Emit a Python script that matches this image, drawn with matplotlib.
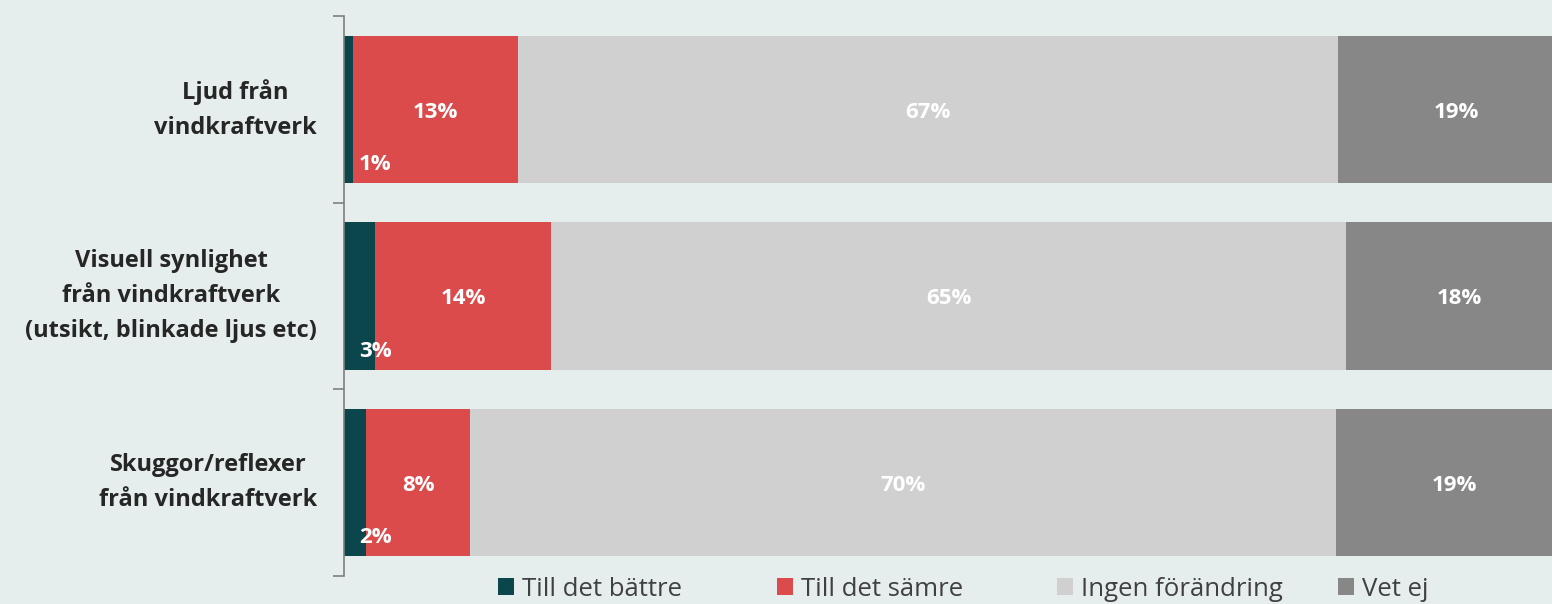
import matplotlib
matplotlib.use("Agg")
import matplotlib.pyplot as plt
from matplotlib.patches import Patch
import numpy as np

categories = ["Ljud från\nvindkraftverk",
              "Visuell synlighet\nfrån vindkraftverk\n(utsikt, blinkade ljus etc)",
              "Skuggor/reflexer\nfrån vindkraftverk"]
series_names = ["Till det bättre", "Till det sämre", "Ingen förändring", "Vet ej"]
# shares in percent (labels show them rounded)
better = [0.73, 2.55, 1.8]
worse = [13.4, 14.3, 8.45]
nochange = [66.7, 64.6, 70.4]
dontknow = [19.2, 18.4, 19.3]
colors = ["#0b464c", "#db4b4c", "#d0d0d0", "#878787"]
bg = "#e6eded"

plt.rcParams['font.family'] = ['Open Sans', 'DejaVu Sans']

W, H = 1552, 604
fig = plt.figure(figsize=(W / 100, H / 100), dpi=100, facecolor=bg)
ax = fig.add_axes([344 / W, 1 - 576 / H, (1574 - 344) / W, (576 - 16) / H])
ax.set_facecolor(bg)

y = np.arange(len(categories))
data = [better, worse, nochange, dontknow]
left = np.zeros(len(categories))
bar_h = 0.79
for i, (vals, c) in enumerate(zip(data, colors)):
    vals = np.array(vals, dtype=float)
    ax.barh(y, vals, left=left, height=bar_h, color=c, label=series_names[i])
    for j, v in enumerate(vals):
        if i == 0:
            ax.annotate(f"{v:.0f}%", xy=(left[j], y[j] + 0.29), xytext=(15, -1),
                        textcoords="offset pixels", ha="left", va="center",
                        color="white", fontsize=16, fontweight="bold")
        else:
            ax.annotate(f"{v:.0f}%", xy=(left[j] + v / 2, y[j]), xytext=(0, -3),
                        textcoords="offset pixels", ha="center", va="center",
                        color="white", fontsize=16, fontweight="bold")
    left += vals

ax.set_xlim(0, 100)
ax.set_ylim(len(categories) - 0.5, -0.5)
for s in ["top", "right", "bottom"]:
    ax.spines[s].set_visible(False)
ax.spines["left"].set_color("#7f7f7f")
ax.spines["left"].set_linewidth(1.2)
ax.set_xticks([])
ax.set_yticks([])
ax.set_yticks(np.arange(-0.5, len(categories)), minor=True)
ax.tick_params(axis="y", which="minor", length=8, width=1.2, color="#7f7f7f", left=True)
ax.tick_params(axis="y", which="major", length=0)

for j, cat in enumerate(categories):
    ax.annotate(cat, xy=(0, y[j]), xytext=(-27, 0), textcoords="offset pixels",
                ha="right", va="center", multialignment="center",
                fontsize=17, fontweight="bold", color="#262626", linespacing=1.6)

# legend: equal-width columns
starts = [498, 777, 1057, 1338]
for name, c, x0 in zip(series_names, colors, starts):
    fig.legend(handles=[Patch(facecolor=c, edgecolor="none", label=name)],
               loc="center left", bbox_to_anchor=(x0 / W, 1 - 589 / H),
               frameon=False, fontsize=18.5, handlelength=0.62, handleheight=0.62,
               handletextpad=0.33, borderpad=0, borderaxespad=0, labelcolor="#404040")

fig.savefig("out.png", dpi=100, facecolor=bg)
